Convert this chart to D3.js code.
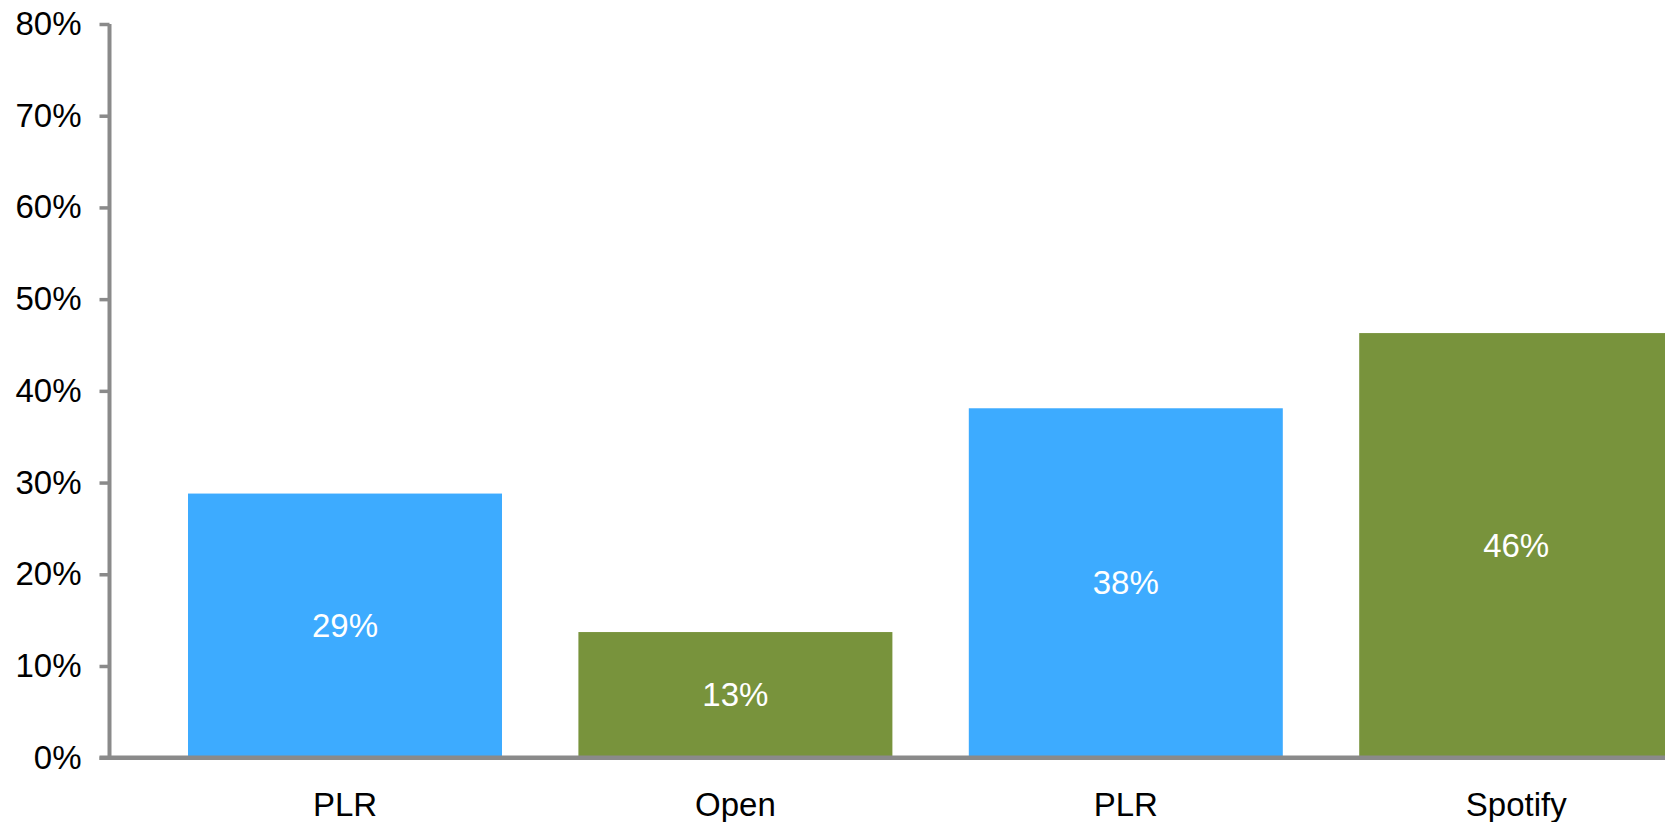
<!DOCTYPE html>
<html>
<head>
<meta charset="utf-8">
<script src="https://cdn.jsdelivr.net/npm/d3@7"></script>
<style>
  html, body { margin: 0; padding: 0; background: #fff; overflow: hidden; }
  svg { display: block; font-family: "Liberation Sans", Arial, sans-serif; }
</style>
</head>
<body>
<svg id="chart" width="1665" height="822"></svg>
<script>
// ---- data ----
const categories = ["PLR", "Open", "PLR", "Spotify"];
const values = [28.8, 13.7, 38.1, 46.3];            // percent
const valueLabels = ["29%", "13%", "38%", "46%"];
const barColors = ["#3DABFF", "#78933C", "#3DABFF", "#78933C"];
const yTicks = [0, 10, 20, 30, 40, 50, 60, 70, 80];

// ---- layout ----
const svg = d3.select("#chart");
const axisColor = "#8a8a8a";
const axisX = 109.5;

const y = d3.scaleLinear().domain([0, 80]).range([757.7, 24]);
const x = d3.scaleBand()
  .domain(d3.range(categories.length))
  .range([149.8, 149.8 + 4 * 390.4])
  .paddingInner(0.1957)
  .paddingOuter(0.1957 / 2);

// bars
svg.append("g").selectAll("rect")
  .data(values)
  .join("rect")
  .attr("x", (d, i) => x(i))
  .attr("width", x.bandwidth())
  .attr("y", d => y(d))
  .attr("height", d => y(0) - y(d))
  .attr("fill", (d, i) => barColors[i]);

// value labels
svg.append("g").selectAll("text")
  .data(values)
  .join("text")
  .attr("x", (d, i) => x(i) + x.bandwidth() / 2)
  .attr("y", d => y(d / 2))
  .attr("text-anchor", "middle")
  .attr("dominant-baseline", "central")
  .attr("fill", "#fff")
  .attr("font-size", 33)
  .text((d, i) => valueLabels[i]);

// y axis
const yAxis = d3.axisLeft(y)
  .tickValues(yTicks)
  .tickFormat(d => d + "%")
  .tickSize(10)
  .tickPadding(18);
const gy = svg.append("g").attr("transform", `translate(${axisX},0)`).call(yAxis);
gy.select(".domain").attr("stroke", axisColor).attr("stroke-width", 4)
  .attr("d", `M-0,${y(80)}V${y(0) + 2}`);
gy.selectAll(".tick line").attr("stroke", axisColor).attr("stroke-width", 3.5);
gy.selectAll(".tick text").attr("fill", "#000").attr("font-size", 33)
  .attr("font-family", "Liberation Sans, Arial, sans-serif");

// x axis
const xAxis = d3.axisBottom(x)
  .tickFormat(i => categories[i])
  .tickSize(0)
  .tickPadding(35);
const gx = svg.append("g").attr("transform", `translate(0,${y(0)})`).call(xAxis);
gx.select(".domain").attr("stroke", axisColor).attr("stroke-width", 4.5)
  .attr("d", `M${axisX - 10},0H1665`);
gx.selectAll(".tick text").attr("fill", "#000").attr("font-size", 33)
  .attr("font-family", "Liberation Sans, Arial, sans-serif");
</script>
</body>
</html>
